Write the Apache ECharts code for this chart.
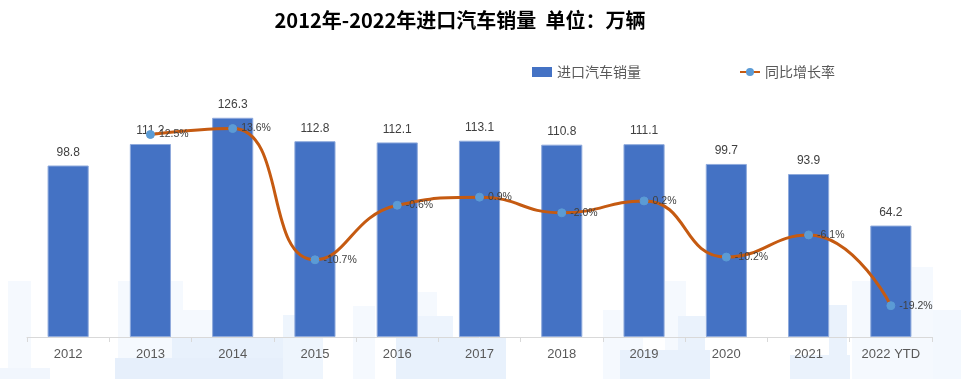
<!DOCTYPE html>
<html>
<head>
<meta charset="utf-8">
<script src="https://cdn.jsdelivr.net/npm/echarts@6/dist/echarts.min.js"></script>
<style>
html,body{margin:0;padding:0;background:#fff;}
#chart{width:961px;height:379px;}
</style>
</head>
<body>
<div id="chart"></div>
<script>
var categories = ['2012','2013','2014','2015','2016','2017','2018','2019','2020','2021','2022 YTD'];
var sales = [98.8,111.2,126.3,112.8,112.1,113.1,110.8,111.1,99.7,93.9,64.2];
var growth = [null,12.5,13.6,-10.7,-0.6,0.9,-2.0,0.2,-10.2,-6.1,-19.2];
var titleText = '2012年-2022年进口汽车销量  单位：万辆';
var seriesNames = ['进口汽车销量','同比增长率'];

// faint decorative watermark blocks in the background (not data)
var deco = [
  [8,281,23,98,'#f5f9fe'],[118,281,65,98,'#f5f9fe'],[183,310,60,69,'#f5f9fe'],
  [172,338,120,41,'#e8f1fc'],[115,358,180,21,'#e6effb'],[283,315,40,64,'#eef5fd'],
  [0,368,50,11,'#f1f6fd'],[353,306,22,73,'#f5f9fe'],[418,292,19,87,'#f5f9fe'],
  [418,316,35,63,'#edf4fd'],[396,338,110,41,'#e8f1fc'],[603,310,40,69,'#f5f9fe'],
  [665,281,21,98,'#f5f9fe'],[678,316,27,63,'#eaf2fc'],[829,305,18,74,'#eaf2fc'],
  [852,281,60,98,'#f5f9fe'],[912,267,21,112,'#f5f9fe'],[933,310,28,69,'#f3f8fe'],
  [620,350,90,29,'#e8f1fc'],[790,355,60,24,'#eaf2fc']
];

var chart = echarts.init(document.getElementById('chart'));
chart.setOption({
  backgroundColor: '#ffffff',
  animation: false,
  graphic: deco.map(function(d){
    return {type: 'rect', z: -10, silent: true, shape: {x: d[0], y: d[1], width: d[2], height: d[3]}, style: {fill: d[4]}};
  }),
  title: {
    text: titleText,
    left: 455, top: 5, textAlign: 'center',
    textStyle: {fontFamily: 'Noto Sans CJK SC', fontWeight: 'bold', fontSize: 20, color: '#000000'}
  },
  legend: {
    left: 527, top: 60, itemWidth: 20, itemHeight: 10, itemGap: 98,
    textStyle: {fontFamily: 'Noto Sans CJK SC', fontSize: 14, color: '#595959'},
    data: [{name: seriesNames[0], icon: 'rect', itemStyle: {borderWidth: 0}}, {name: seriesNames[1]}]
  },
  grid: {left: 27, right: 29, top: 94, bottom: 42, containLabel: false},
  xAxis: {
    type: 'category', data: categories,
    axisLine: {lineStyle: {color: '#d9d9d9', width: 1}},
    axisTick: {show: true, length: 5, lineStyle: {color: '#d9d9d9'}},
    axisLabel: {color: '#595959', fontFamily: 'Arial, Liberation Sans', fontSize: 13, margin: 11}
  },
  yAxis: [
    {type: 'value', min: 0, max: 140, show: false, splitLine: {show: false}},
    {type: 'value', min: -25, max: 20, show: false, splitLine: {show: false}}
  ],
  series: [
    {
      name: seriesNames[0], type: 'bar', data: sales, barWidth: '50%',
      itemStyle: {color: '#4472C4', borderColor: '#8faadc', borderWidth: 1},
      label: {show: true, position: 'top', distance: 7, color: '#404040', fontFamily: 'Arial, Liberation Sans', fontSize: 12}
    },
    {
      name: seriesNames[1], type: 'line', yAxisIndex: 1, data: growth, smooth: 0.5,
      symbol: 'circle', symbolSize: 8, connectNulls: false,
      lineStyle: {color: '#C55A11', width: 3},
      itemStyle: {color: '#5B9BD5', borderColor: '#5B9BD5'},
      label: {show: true, position: 'right', distance: 4, color: '#404040', fontFamily: 'Arial, Liberation Sans', fontSize: 10.5,
        formatter: function(p){ return p.value == null ? '' : Number(p.value).toFixed(1) + '%'; }},
      z: 5
    }
  ]
});
</script>
</body>
</html>
